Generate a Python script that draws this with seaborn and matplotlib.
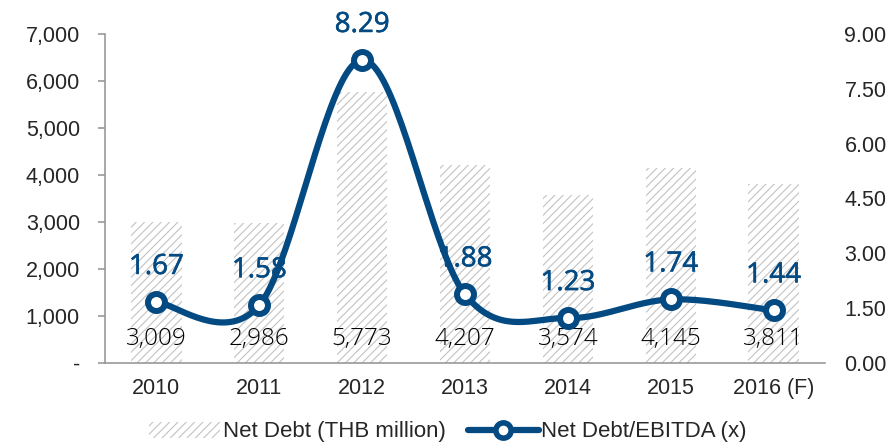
import numpy as np
import pandas as pd
import matplotlib
matplotlib.use("Agg")
import matplotlib.pyplot as plt
import matplotlib.patheffects as pe
import seaborn as sns
from matplotlib.patches import Patch
from matplotlib.lines import Line2D

years = ["2010", "2011", "2012", "2013", "2014", "2015", "2016 (F)"]
net_debt = [3009, 2986, 5773, 4207, 3574, 4145, 3811]
ratio = [1.67, 1.58, 8.29, 1.88, 1.23, 1.74, 1.44]
left_ticks = [0, 1000, 2000, 3000, 4000, 5000, 6000, 7000]
right_ticks = [0, 1.5, 3.0, 4.5, 6.0, 7.5, 9.0]

sns.set_theme(style="white")
plt.rcParams['font.family'] = ['Liberation Sans', 'DejaVu Sans']
plt.rcParams['hatch.linewidth'] = 0.8

BLUE = '#034a82'
HATCH_COL = '#c2c2c2'
HATCH = '////'
fig = plt.figure(figsize=(8.95, 4.45), dpi=100)
ax = fig.add_axes([105/895, 82/445, 720/895, 329/445])

df = pd.DataFrame({"year": years, "debt": net_debt, "ratio": ratio})
sns.barplot(data=df, x="year", y="debt", ax=ax, color='white', width=0.49,
            edgecolor=HATCH_COL, linewidth=0, hatch=HATCH)
ax.set_ylim(0, 7000)
ax.set_xlim(-0.5, len(years) - 0.5)
ax.set_yticks(left_ticks)
ax.set_yticklabels(['-' if v == 0 else f"{v:,}" for v in left_ticks], fontsize=15.5)
ax.set_xticks(range(len(years)))
ax.set_xticklabels(years, fontsize=15.5)
ax.set_xlabel(""); ax.set_ylabel("")
ax.set_xticks(np.arange(-0.5, len(years)), minor=True)
ax.tick_params(axis='x', which='major', length=0, pad=11)
ax.tick_params(axis='x', which='minor', length=5, color='#999999', width=1.2, direction='out')
ax.tick_params(axis='y', length=5, color='#999999', width=1.2, direction='out', left=True, pad=13)
for s in ['top', 'right']:
    ax.spines[s].set_visible(False)
for s in ['left', 'bottom']:
    ax.spines[s].set_color('#999999')
    ax.spines[s].set_linewidth(1.2)

for i, v in enumerate(net_debt):
    ax.annotate(f"{v:,}", (i, 0), xytext=(0, 24*72/100), textcoords='offset points',
                ha='center', va='center', fontsize=17.5, color='#000000',
                family=['Open Sans', 'DejaVu Sans'], fontweight='light')

ax2 = ax.twinx()
ax2.set_ylim(0, 9)
ax2.set_yticks(right_ticks)
ax2.set_yticklabels([f"{v:.2f}" for v in right_ticks], fontsize=15.5)
ax2.tick_params(axis='y', length=0, pad=14)
for s in ax2.spines.values():
    s.set_visible(False)

# Smooth curve (Catmull-Rom, like Excel's smoothed line) in screen-proportional space
xs = np.arange(len(ratio), dtype=float)
scale = 329 / (720 / 7) / 9
P = np.column_stack([xs, np.array(ratio) * scale])
Pp = np.vstack([P[0], P, P[-1]])
curve = []
for k in range(1, len(Pp) - 2):
    p0, p1, p2, p3 = Pp[k-1], Pp[k], Pp[k+1], Pp[k+2]
    t = np.linspace(0, 1, 40)[:, None]
    c = 0.5 * ((2*p1) + (-p0 + p2)*t + (2*p0 - 5*p1 + 4*p2 - p3)*t**2 + (-p0 + 3*p1 - 3*p2 + p3)*t**3)
    curve.append(c)
curve = np.vstack(curve)
cdf = pd.DataFrame({"x": curve[:, 0], "y": curve[:, 1] / scale})
sns.lineplot(data=cdf, x="x", y="y", ax=ax2, color=BLUE, linewidth=4.5, sort=False, estimator=None)
sns.scatterplot(x=xs, y=ratio, ax=ax2, s=150, color='white', edgecolor=BLUE, linewidth=4.3, zorder=5)
ax2.set_xlabel(""); ax2.set_ylabel("")
ax.set_xlim(-0.5, len(years) - 0.5)

for i, v in enumerate(ratio):
    ax2.annotate(f"{v:.2f}", (i, v), xytext=(0, 35*72/100), textcoords='offset points',
                 ha='center', va='center', fontsize=20, color=BLUE,
                 family=['Open Sans', 'DejaVu Sans'],
                 path_effects=[pe.withStroke(linewidth=0.4, foreground=BLUE)])

handles = [Patch(facecolor='white', edgecolor=HATCH_COL, linewidth=0, hatch=HATCH, label='Net Debt (THB million)'),
           Line2D([0], [0], color=BLUE, lw=4.5, marker='o', markersize=11, markerfacecolor='white',
                  markeredgecolor=BLUE, markeredgewidth=4, label='Net Debt/EBITDA (x)')]
fig.legend(handles=handles, loc='center', bbox_to_anchor=(448/895, 1 - 432/445), ncol=2,
           frameon=False, fontsize=16, handlelength=3.2, handleheight=0.7,
           columnspacing=1.0, handletextpad=0.1, borderaxespad=0)

fig.savefig("out.png", dpi=100)
